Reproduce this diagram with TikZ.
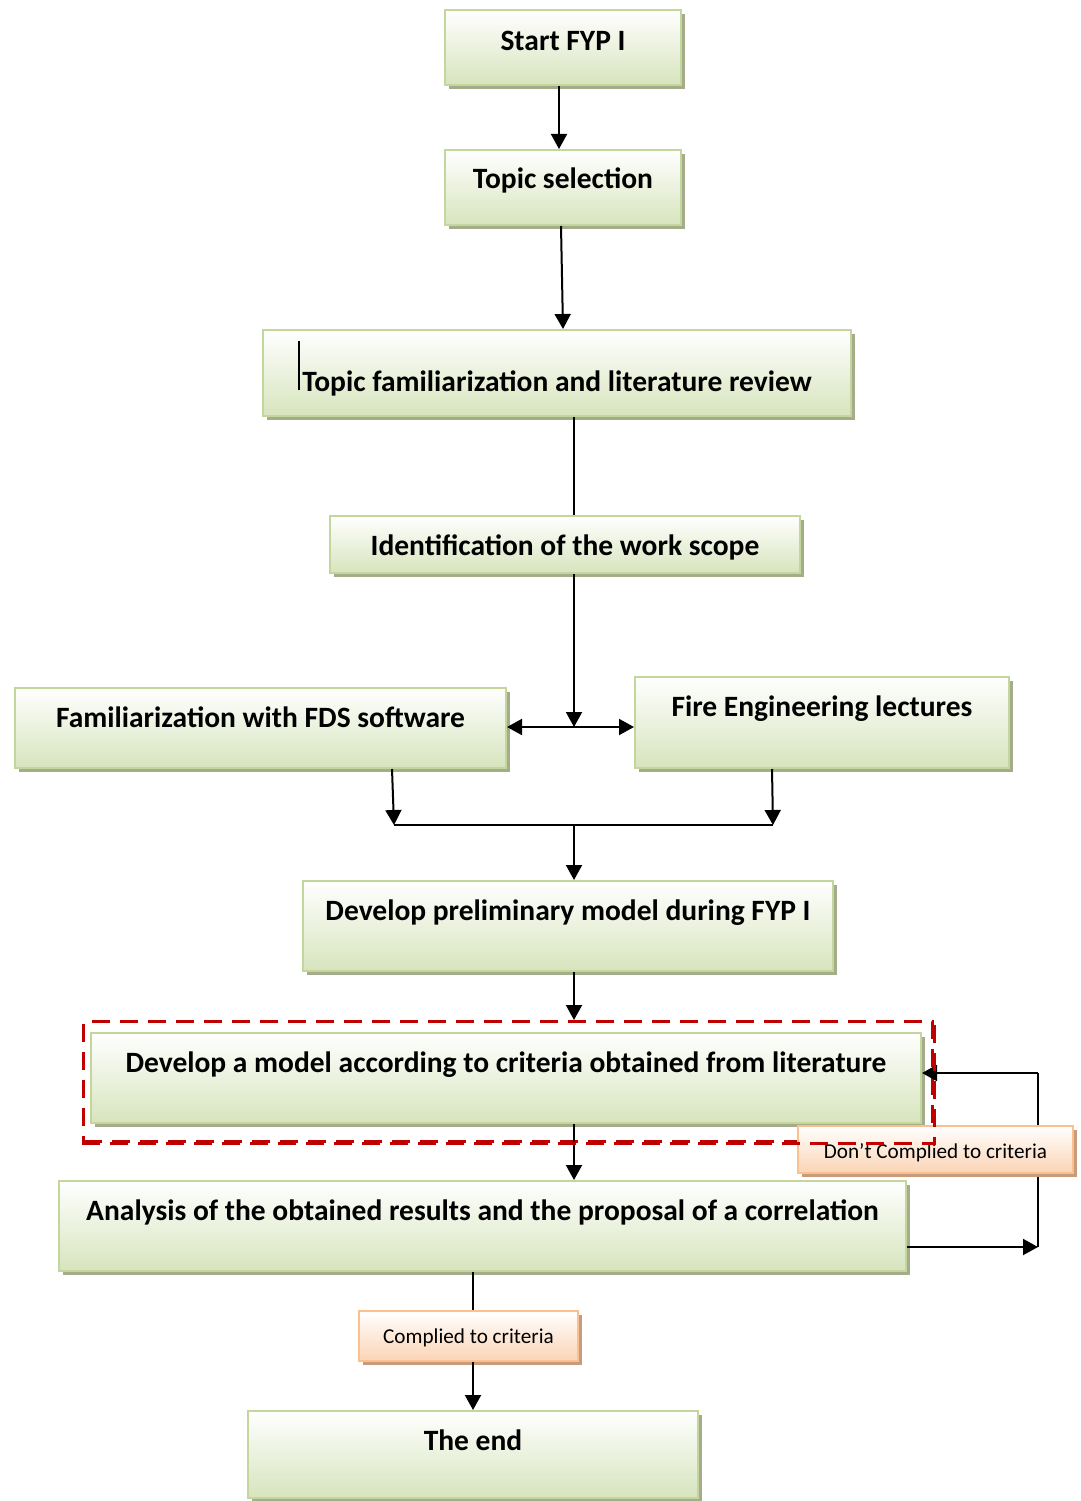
\documentclass[tikz,border=0pt]{standalone}
\usepackage{fontspec}
\setmainfont{Carlito}
\usetikzlibrary{arrows.meta,shadows,calc}
\definecolor{boxborder}{RGB}{195,214,155}
\definecolor{boxfill}{RGB}{215,228,189}
\definecolor{boxshadow}{RGB}{165,172,140}
\definecolor{labborder}{RGB}{250,192,144}
\definecolor{labfill}{RGB}{251,212,180}
\definecolor{labshadow}{RGB}{200,155,125}
\definecolor{dashred}{RGB}{192,0,0}
\begin{document}
\begin{tikzpicture}[x=1pt,y=-1pt,
  box/.style={draw=boxborder, line width=2pt, top color=white, bottom color=boxfill,
    inner sep=0pt, anchor=north west, align=center,
    font=\bfseries\fontsize{29.5}{34}\selectfont,
    general shadow={fill=boxshadow, shadow xshift=4pt, shadow yshift=-4pt}},
  lab/.style={draw=labborder, line width=2pt, top color=white, bottom color=labfill,
    inner sep=0pt, anchor=north west, align=center,
    font=\fontsize{21.2}{25}\selectfont,
    general shadow={fill=labshadow, shadow xshift=4pt, shadow yshift=-4pt}},
  conn/.style={line width=2pt, -{Triangle[length=15pt,width=16pt]}},
  plain/.style={line width=2pt},
  dbl/.style={line width=2pt, {Triangle[length=15pt,width=16pt]}-{Triangle[length=15pt,width=16pt]}}
]
\useasboundingbox (0,0) rectangle (1080,1501);

\node[box, minimum width=236pt, text height=40.5pt, text depth=34.5pt] (start) at (444,9) {Start FYP I};
\node[box, minimum width=236pt, text height=38.5pt, text depth=36.5pt] (topic) at (444,149) {Topic selection};
\node[box, minimum width=588pt, text height=61.5pt, text depth=24.5pt] (lit) at (262,329) {Topic familiarization and literature review};
\node[box, minimum width=470pt, text height=39.5pt, text depth=17.5pt] (ident) at (329,515) {Identification of the work scope};
\node[box, minimum width=491pt, text height=39.5pt, text depth=40.5pt] (fds) at (14,687) {Familiarization with FDS software};
\node[box, minimum width=374pt, text height=39.5pt, text depth=51.5pt] (fire) at (634,676) {Fire Engineering lectures};
\node[box, minimum width=530pt, text height=39.5pt, text depth=50.5pt] (prelim) at (302,880) {Develop preliminary model during FYP I};
\node[box, minimum width=830pt, text height=39.5pt, text depth=50.5pt] (dev) at (90,1032) {Develop a model according to criteria obtained from literature};
\node[box, minimum width=847pt, text height=39.5pt, text depth=50.5pt] (ana) at (58,1180) {Analysis of the obtained results and the proposal of a correlation};
\node[box, minimum width=450pt, text height=39.5pt, text depth=47.5pt] (theend) at (247,1410) {The end};

\draw[line width=1.2pt] (299,341) -- (299,390);

\coordinate (j1) at (574,727);
\coordinate (j2l) at (394,825);
\coordinate (j2r) at (773,825);
\coordinate (j2) at (574,825);
\coordinate (fb1) at (1038,1247);
\coordinate (fb2) at (1038,1073);

\draw[conn] ($(start.south)+(-4,0)$) -- ($(topic.north)+(-4,0)$);
\draw[conn] ($(topic.south)+(-2,0)$) -- ($(lit.north)+(6,0)$);
\draw[plain] (lit.south -| j1) -- (ident.north -| j1);
\draw[conn] (ident.south -| j1) -- (j1);
\draw[dbl] (fds.east |- j1) -- (fire.west |- j1);
\draw[conn] ($(fds.south -| j2l)+(-2,0)$) -- (j2l);
\draw[conn] ($(fire.south -| j2r)+(-1,0)$) -- (j2r);
\draw[plain] (j2l) -- (j2r);
\draw[conn] (j2) -- (prelim.north -| j2);

\node[draw=dashred, line width=3pt, dash pattern=on 18pt off 10pt, inner sep=0pt, anchor=north west,
  minimum width=849pt, minimum height=120pt] (dash) at (82,1020) {};

\draw[conn] (prelim.south -| j1) -- (dash.north -| j1);
\draw[conn] (dev.south -| j1) -- (ana.north -| j1);

\draw[conn] (ana.east |- fb1) -- (fb1);
\draw[plain] (fb1) -- (fb2);
\draw[conn] (fb2) -- (dev.east |- fb2);

\node[lab, minimum width=275pt, text height=32pt, text depth=15pt] (dont) at (797,1125) {Don’t Complied to criteria};
\node[lab, minimum width=219pt, text height=32pt, text depth=18pt] (comp) at (358,1310) {Complied to criteria};

\draw[plain] (ana.south -| theend) -- (comp.north -| theend);
\draw[conn] (comp.south -| theend) -- (theend.north);

\draw[dashred, line width=3pt, dash pattern=on 18pt off 10pt] (dash.south west) -- (dash.south east) -- (dash.north east);
\end{tikzpicture}
\end{document}
